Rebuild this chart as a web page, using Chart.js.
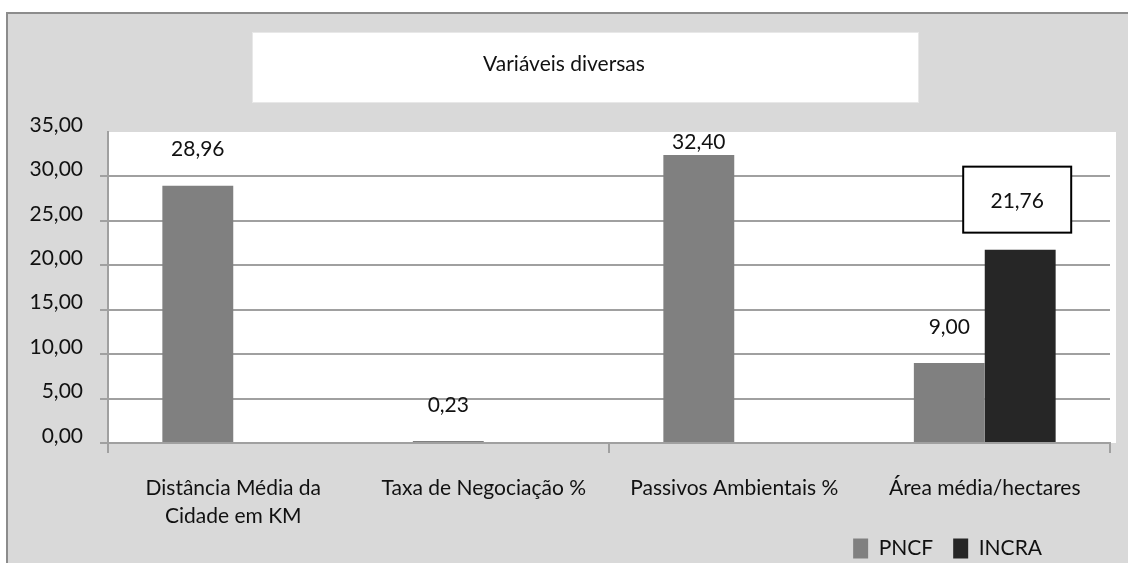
<!DOCTYPE html>
<html><head><meta charset="utf-8">
<script src="https://cdn.jsdelivr.net/npm/chart.js@4.4.0/dist/chart.umd.min.js"></script>
<style>html,body{margin:0;padding:0;background:#fff;}#wrap{width:1128px;height:563px;}</style>
</head><body><div id="wrap"><canvas id="c" width="1128" height="563"></canvas></div>
<script>
const categories = [["Distância Média da", "Cidade em KM"], "Taxa de Negociação %", "Passivos Ambientais %", "Área média/hectares"];
const seriesNames = ["PNCF", "INCRA"];
const pncfValues = [28.96, 0.23, 32.40, 9.00];
const incraValues = [null, null, null, 21.76];
const yTicks = [0, 5, 10, 15, 20, 25, 30, 35];
const chartTitle = "Variáveis diversas";

const FONT = 'Lato, "Noto Sans", sans-serif';
const TXT = '#111111';
const GRID = '#a0a0a0';
const fmt = v => Number(v).toFixed(2).replace('.', ',');

Chart.defaults.font.family = FONT;
Chart.defaults.font.size = 21;
Chart.defaults.color = TXT;

const frame = {
  id: 'frame',
  beforeDraw(chart) {
    const {ctx, chartArea: a} = chart;
    ctx.save();
    ctx.fillStyle = '#ffffff'; ctx.fillRect(0, 0, chart.width, chart.height);
    ctx.fillStyle = '#d9d9d9'; ctx.fillRect(7, 13, chart.width, chart.height);
    ctx.strokeStyle = '#8c8c8c'; ctx.lineWidth = 2; ctx.strokeRect(7, 13, chart.width + 20, chart.height + 20);
    ctx.fillStyle = '#ffffff'; ctx.fillRect(252, 32, 666, 70);
    ctx.strokeStyle = '#e8e8e8'; ctx.lineWidth = 1; ctx.strokeRect(252.5, 32.5, 666, 70);
    ctx.fillStyle = '#ffffff'; ctx.fillRect(a.left, a.top, a.right - a.left + 6, a.bottom - a.top);
    ctx.restore();
  },
  afterLayout(chart) {
    const t = chart.titleBlock;
    t.left = 0; t.right = chart.width; t.width = chart.width;
    const l = chart.legend;
    l.right = chart.chartArea.right - 48; l.width = l.right - l.left;
    l.top -= 12; l.bottom -= 12;
  }
};

const valueLabels = {
  id: 'valueLabels',
  afterDatasetsDraw(chart) {
    const {ctx, chartArea: a} = chart;
    ctx.save();
    ctx.font = '21px ' + FONT;
    ctx.textAlign = 'center';
    ctx.textBaseline = 'middle';
    chart.data.datasets.forEach((ds, di) => {
      const meta = chart.getDatasetMeta(di);
      meta.data.forEach((bar, i) => {
        const v = ds.data[i];
        if (v === null || v === undefined) return;
        const txt = fmt(v);
        if (ds.labelBoxed) {
          const cx = bar.x - 3, cy = bar.y - 50;
          ctx.fillStyle = '#ffffff'; ctx.fillRect(cx - 54, cy - 33, 108, 66);
          ctx.strokeStyle = '#000000'; ctx.lineWidth = 2; ctx.strokeRect(cx - 54, cy - 33, 108, 66);
          ctx.fillStyle = TXT; ctx.fillText(txt, cx, cy + 2);
        } else {
          ctx.fillStyle = TXT;
          ctx.fillText(txt, bar.x, Math.max(bar.y - 36, a.top + 10));
        }
      });
    });
    ctx.restore();
  }
};

new Chart(document.getElementById('c'), {
  type: 'bar',
  data: {
    labels: categories,
    datasets: [
      {label: seriesNames[0], data: pncfValues, backgroundColor: '#808080', borderWidth: 0},
      {label: seriesNames[1], data: incraValues, backgroundColor: '#262626', borderWidth: 0, labelBoxed: true}
    ]
  },
  options: {
    responsive: false,
    devicePixelRatio: 1,
    animation: false,
    datasets: {bar: {categoryPercentage: 0.566, barPercentage: 1}},
    layout: {padding: {left: 0, right: 18, top: 0, bottom: -18}},
    plugins: {
      tooltip: {enabled: false},
      title: {display: true, text: chartTitle, color: TXT, font: {size: 21, weight: 'normal'}, padding: {top: 52, bottom: 54.8}},
      legend: {
        position: 'bottom', align: 'end',
        labels: {boxWidth: 15, boxHeight: 20, padding: 20, color: TXT, font: {size: 21}}
      }
    },
    scales: {
      x: {
        afterFit: s => { s.height = 87; },
        grid: {offset: true, drawOnChartArea: false, tickLength: 10, lineWidth: 2,
          color: c => (c.index === undefined || c.index % 2 === 0) ? GRID : 'rgba(0,0,0,0)'},
        border: {color: GRID, width: 2},
        ticks: {padding: 21, maxRotation: 0, autoSkip: false, color: TXT, font: {size: 21, lineHeight: 1.33}}
      },
      y: {
        min: 0, max: 35,
        afterBuildTicks: s => { s.ticks = yTicks.map(v => ({value: v})); },
        afterFit: s => { s.width = 108; },
        grid: {color: c => (c.tick && c.tick.value === 35) ? 'rgba(0,0,0,0)' : GRID, lineWidth: 2, tickLength: 8},
        border: {color: GRID, width: 2},
        ticks: {padding: 17, labelOffset: -7, color: TXT, font: {size: 21}, callback: v => fmt(v)}
      }
    }
  },
  plugins: [frame, valueLabels]
});
</script></body></html>
